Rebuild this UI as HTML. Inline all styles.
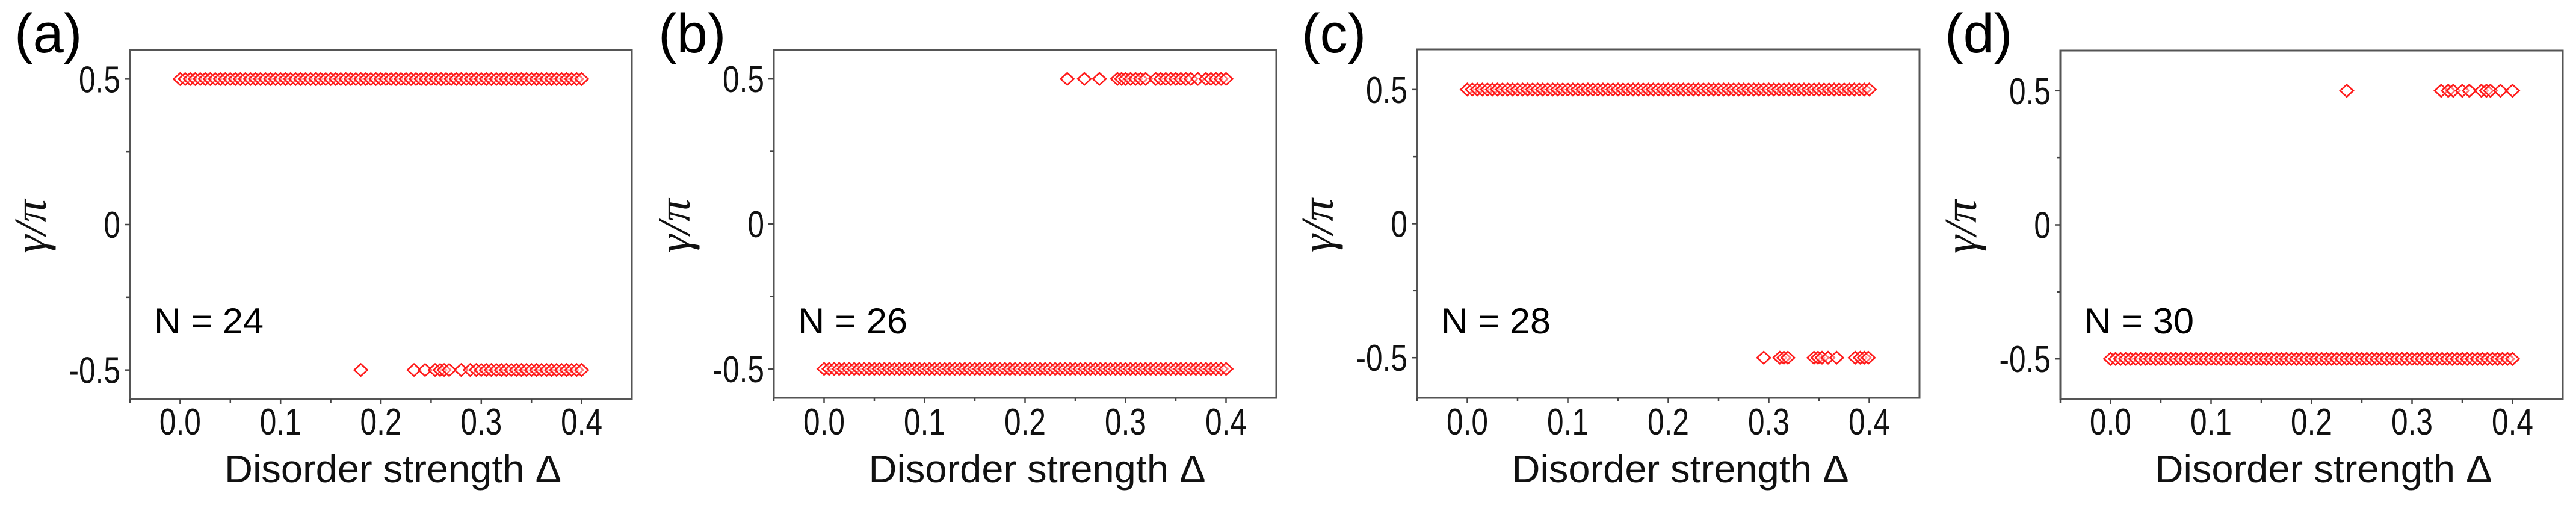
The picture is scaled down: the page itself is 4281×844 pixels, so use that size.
<!DOCTYPE html>
<html><head><meta charset="utf-8"><style>
html,body{margin:0;padding:0;background:#fff;}
svg{display:block;}
</style></head><body>
<svg id="fig" width="4281" height="844" viewBox="0 0 4281 844" xmlns="http://www.w3.org/2000/svg"></svg>
<script>
// ---- data ----
var xTickLabels = ["0.0","0.1","0.2","0.3","0.4"];
var xTickValues = [0,0.1,0.2,0.3,0.4];
var yTickLabels = ["0.5","0","-0.5"];
var yTickValues = [0.5,0,-0.5];
var panelLabels = ["(a)","(b)","(c)","(d)"];
var sizeLabels = ["N = 24","N = 26","N = 28","N = 30"];
var fullRow = [0,0.005,0.01,0.015,0.02,0.025,0.03,0.035,0.04,0.045,0.05,0.055,0.06,0.065,0.07,0.075,0.08,0.085,0.09,0.095,0.1,0.105,0.11,0.115,0.12,0.125,0.13,0.135,0.14,0.145,0.15,0.155,0.16,0.165,0.17,0.175,0.18,0.185,0.19,0.195,0.2,0.205,0.21,0.215,0.22,0.225,0.23,0.235,0.24,0.245,0.25,0.255,0.26,0.265,0.27,0.275,0.28,0.285,0.29,0.295,0.3,0.305,0.31,0.315,0.32,0.325,0.33,0.335,0.34,0.345,0.35,0.355,0.36,0.365,0.37,0.375,0.38,0.385,0.39,0.395,0.4];
var aUpper = fullRow;
var aLower = [0.18,0.233,0.244,0.254,0.259,0.263,0.268,0.28,0.289,0.295,0.3,0.305,0.31,0.315,0.32,0.325,0.33,0.335,0.34,0.345,0.35,0.355,0.36,0.365,0.37,0.375,0.38,0.385,0.39,0.395,0.4];
var bUpper = [0.242,0.259,0.274,0.292,0.296,0.3,0.305,0.31,0.315,0.32,0.33,0.335,0.34,0.345,0.35,0.355,0.36,0.365,0.372,0.38,0.385,0.39,0.395,0.4];
var bLower = fullRow;
var cUpper = fullRow;
var cLower = [0.295,0.311,0.315,0.319,0.345,0.349,0.353,0.359,0.3675,0.386,0.391,0.395,0.399];
var dUpper = [0.235,0.329,0.336,0.341,0.35,0.357,0.369,0.374,0.378,0.388,0.4];
var dLower = fullRow;
var upperSets = [aUpper,bUpper,cUpper,dUpper];
var lowerSets = [aLower,bLower,cLower,dLower];
var yLimits = [0.6,0.6,0.65,0.65];

// ---- layout ----
var NS="http://www.w3.org/2000/svg";
var svg=document.getElementById('fig');
var frames=[{l:216,r:1050,t:83,b:663},{l:1286,r:2121,t:83,b:661},{l:2355,r:3190,t:82,b:661},{l:3424,r:4259,t:84,b:663}];
function mk(tag,attrs,parent){var e=document.createElementNS(NS,tag);for(var k in attrs)e.setAttribute(k,attrs[k]);(parent||svg).appendChild(e);return e;}

frames.forEach(function(f,i){
  var g=mk('g',{});
  
  
  var lim=yLimits[i];
  function X(v){return f.l+(v+0.05)/0.5*(f.r-f.l);}
  function Y(v){return f.b-(v+lim)/(2*lim)*(f.b-f.t);}
  var fr=mk('rect',{x:f.l,y:f.t,width:f.r-f.l,height:f.b-f.t,fill:'none',stroke:'#555','stroke-width':3},g);
  
  
  for(var k=0;k<=9;k++){
    var v=-0.05+k*0.05; var major=(k%2==1);
    var t=mk('line',{x1:X(v),x2:X(v),y1:f.b,y2:f.b+(major?9:6),stroke:'#444','stroke-width':2.5},g);
    
    
  }
  xTickValues.forEach(function(v,j){
    var tx=mk('text',{x:X(v),y:722,'text-anchor':'middle','font-family':'Liberation Sans, sans-serif','font-size':62,fill:'#111',transform:'translate('+X(v)+',0) scale(0.8,1) translate('+(-X(v))+',0)'},g);
    tx.textContent=xTickLabels[j];
    
    
  });
  [-0.5,-0.25,0,0.25,0.5].forEach(function(v,k){
    var major=(k%2==0);
    var t=mk('line',{x1:f.l-(major?9:6),x2:f.l,y1:Y(v),y2:Y(v),stroke:'#444','stroke-width':2.5},g);
    
    
  });
  yTickValues.forEach(function(v,j){
    var rx=f.l-16;
    var tx=mk('text',{x:rx,y:Y(v)+22,'text-anchor':'end','font-family':'Liberation Sans, sans-serif','font-size':62,fill:'#111',transform:'translate('+rx+',0) scale(0.8,1) translate('+(-rx)+',0)'},g);
    tx.textContent=yTickLabels[j];
    
    
  });
  var xt=mk('text',{x:(f.l+f.r)/2+20,y:801,'text-anchor':'middle','font-family':'Liberation Sans, sans-serif','font-size':64,fill:'#111',textLength:560,lengthAdjust:'spacingAndGlyphs'},g);
  xt.textContent='Disorder strength \u0394';
  
  
  var cy=(f.t+f.b)/2+3, cx=f.l-140;
  var yt=mk('text',{x:cx,y:cy,'text-anchor':'middle','font-family':'Liberation Serif, serif','font-style':'italic','font-size':76,fill:'#111',transform:'rotate(-90 '+cx+' '+cy+')'},g);
  yt.textContent='\u03B3/\u03C0';
  
  
  var pl=mk('text',{x:f.l-192,y:87,'font-family':'Liberation Sans, sans-serif','font-size':92,fill:'#000'},g);
  pl.textContent=panelLabels[i];
  
  
  var nl=mk('text',{x:f.l+40,y:554,'font-family':'Liberation Sans, sans-serif','font-size':60,fill:'#000',textLength:182,lengthAdjust:'spacingAndGlyphs'},g);
  nl.textContent=sizeLabels[i];
  
  
  function diamonds(arr,yv,name){
    arr.forEach(function(v){
      var x=X(v),y=Y(yv);
      var p=mk('path',{d:'M'+(x-11)+' '+y+'L'+x+' '+(y-10)+'L'+(x+11)+' '+y+'L'+x+' '+(y+10)+'Z',fill:'rgba(255,255,255,0.4)',stroke:'#ff1a1a','stroke-width':2.6},g);
      
      
    });
  }
  diamonds(upperSets[i],0.5,'marker-upper');
  diamonds(lowerSets[i],-0.5,'marker-lower');
});
</script>
</body></html>
